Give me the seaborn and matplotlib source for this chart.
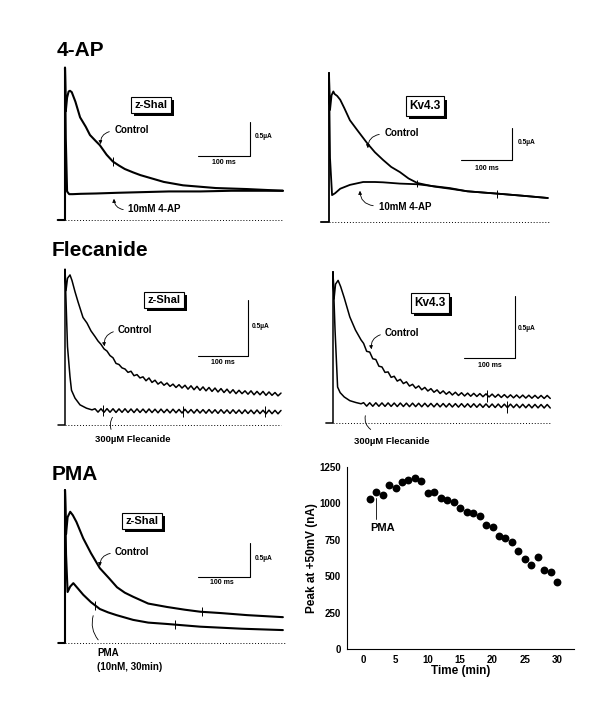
import numpy as np
import matplotlib
matplotlib.use("Agg")
import matplotlib.pyplot as plt
import matplotlib.patheffects as pe
from matplotlib.patches import FancyArrowPatch
from matplotlib.ticker import MultipleLocator
import seaborn as sns

# ---------------- data ----------------
# currents in uA, time in ms (t=0 is the start of the step)

# 4-AP, z-Shal
ap_zshal_ctrl_t = [-14, 0, 0, 1.5, 4, 7, 9.6, 13, 20, 29, 40, 48, 58, 67, 80, 92, 104, 115, 131, 145, 163, 190, 227, 290, 350, 419]
ap_zshal_ctrl_i = [0, 0, 2.24, 1.60, 1.80, 1.89, 1.90, 1.88, 1.74, 1.51, 1.37, 1.25, 1.17, 1.10, 0.96, 0.86, 0.80, 0.75, 0.70, 0.66, 0.62, 0.56, 0.51, 0.47, 0.455, 0.43]
ap_zshal_drug_t = [0, 1.5, 4, 8, 15, 30, 60, 100, 150, 200, 260, 320, 380, 419]
ap_zshal_drug_i = [2.24, 1.2, 0.42, 0.38, 0.38, 0.385, 0.39, 0.40, 0.41, 0.42, 0.42, 0.43, 0.43, 0.43]

# 4-AP, Kv4.3
ap_kv_ctrl_t = [-16, 0, 0, 2, 5, 8.5, 11, 16, 22, 30, 41, 55, 75, 90, 106, 122, 139, 156, 173, 205, 237, 271, 335, 380, 429]
ap_kv_ctrl_i = [0, 0, 2.33, 1.75, 1.98, 2.04, 2.00, 1.97, 1.91, 1.78, 1.59, 1.44, 1.23, 1.09, 0.97, 0.86, 0.78, 0.68, 0.61, 0.555, 0.52, 0.48, 0.44, 0.41, 0.375]
ap_kv_drug_t = [0, 2, 6, 12, 22, 41, 67, 90, 106, 139, 173, 205, 237, 271, 335, 380, 429]
ap_kv_drug_i = [2.33, 1.0, 0.42, 0.45, 0.52, 0.58, 0.625, 0.625, 0.62, 0.60, 0.59, 0.56, 0.53, 0.48, 0.44, 0.41, 0.375]

# Flecainide, z-Shal (head points, then a 6 ms sampled tail from 60 ms)
fl_zshal_ctrl_t = [-14, 0, 0, 2, 5, 10, 14, 20, 26, 36, 44, 52]
fl_zshal_ctrl_i = [0, 0, 1.39, 1.20, 1.31, 1.34, 1.29, 1.19, 1.10, 0.96, 0.91, 0.84]
fl_zshal_ctrl_tail = [0.79, 0.75, 0.72, 0.68, 0.66, 0.62, 0.60, 0.55, 0.54, 0.51,
                      0.50, 0.47, 0.48, 0.44, 0.45, 0.42, 0.43, 0.395, 0.42, 0.38,
                      0.40, 0.365, 0.385, 0.355, 0.375, 0.345, 0.365, 0.335, 0.36, 0.33,
                      0.355, 0.32, 0.35, 0.315, 0.345, 0.31, 0.34, 0.305, 0.335, 0.30,
                      0.33, 0.295, 0.325, 0.29, 0.32, 0.285, 0.315, 0.28, 0.31, 0.28,
                      0.305, 0.275, 0.305, 0.27, 0.30, 0.27, 0.30, 0.265, 0.295, 0.265,
                      0.29, 0.26, 0.285]
fl_zshal_drug_t = [0, 5, 10, 13, 20, 30, 43, 54]
fl_zshal_drug_i = [1.39, 0.70, 0.43, 0.31, 0.24, 0.18, 0.15, 0.135]
fl_zshal_drug_tail = [0.145, 0.115, 0.145, 0.113, 0.146, 0.114, 0.145, 0.112, 0.144, 0.113,
                      0.145, 0.112, 0.143, 0.111, 0.144, 0.112, 0.142, 0.110, 0.143, 0.111,
                      0.141, 0.109, 0.142, 0.110, 0.140, 0.108, 0.141, 0.109, 0.139, 0.107,
                      0.140, 0.108, 0.138, 0.106, 0.139, 0.107, 0.137, 0.105, 0.138, 0.106,
                      0.136, 0.104, 0.137, 0.105, 0.135, 0.103, 0.136, 0.104, 0.134, 0.102,
                      0.135, 0.103, 0.133, 0.101, 0.134, 0.102, 0.132, 0.100, 0.133, 0.101,
                      0.131, 0.100, 0.130]

# Flecainide, Kv4.3
fl_kv_ctrl_t = [-14, 0, 0, 2, 5, 10, 15, 22, 33, 44, 55]
fl_kv_ctrl_i = [0, 0, 1.22, 1.00, 1.12, 1.15, 1.10, 1.01, 0.855, 0.75, 0.67]
fl_kv_ctrl_tail = [0.642, 0.578, 0.572, 0.518, 0.512, 0.458, 0.452, 0.408, 0.412, 0.368,
                   0.377, 0.338, 0.352, 0.318, 0.332, 0.298, 0.312, 0.281, 0.299, 0.268,
                   0.287, 0.258, 0.277, 0.248, 0.267, 0.238, 0.259, 0.232, 0.252, 0.226,
                   0.248, 0.222, 0.244, 0.218, 0.241, 0.216, 0.239, 0.214, 0.237, 0.212,
                   0.235, 0.210, 0.233, 0.208, 0.231, 0.206, 0.229, 0.204, 0.227, 0.203,
                   0.226, 0.202, 0.225, 0.201, 0.224, 0.200, 0.223, 0.199, 0.222, 0.198,
                   0.222, 0.198]
fl_kv_drug_t = [0, 4, 9, 14, 22, 33, 45, 55]
fl_kv_drug_i = [1.22, 0.75, 0.29, 0.245, 0.21, 0.18, 0.165, 0.155]
fl_kv_drug_tail = [0.164, 0.136, 0.163, 0.135, 0.163, 0.135, 0.162, 0.134, 0.162, 0.134,
                   0.161, 0.133, 0.161, 0.133, 0.160, 0.132, 0.160, 0.132, 0.159, 0.131,
                   0.159, 0.131, 0.158, 0.130, 0.158, 0.130, 0.157, 0.129, 0.157, 0.129,
                   0.156, 0.128, 0.156, 0.128, 0.155, 0.127, 0.155, 0.127, 0.154, 0.126,
                   0.154, 0.126, 0.153, 0.125, 0.153, 0.125, 0.152, 0.124, 0.152, 0.124,
                   0.151, 0.123, 0.151, 0.123, 0.150, 0.122, 0.150, 0.122, 0.149, 0.121,
                   0.149, 0.121]

# PMA, z-Shal
pma_ctrl_t = [-13, 0, 0, 2, 5, 10, 15, 22, 35, 50, 67, 85, 100, 115, 131, 160, 196, 230, 260, 300, 350, 419]
pma_ctrl_i = [0, 0, 2.25, 1.60, 1.85, 1.93, 1.88, 1.78, 1.54, 1.32, 1.10, 0.95, 0.82, 0.74, 0.68, 0.58, 0.53, 0.49, 0.46, 0.44, 0.41, 0.38]
pma_drug_t = [0, 2, 5, 10, 16, 25, 35, 50, 67, 83, 99, 131, 160, 196, 260, 340, 419]
pma_drug_i = [2.25, 1.3, 0.75, 0.83, 0.88, 0.80, 0.71, 0.60, 0.50, 0.45, 0.41, 0.34, 0.30, 0.28, 0.24, 0.21, 0.19]

# small stimulus artefacts on the traces: (panel, time ms, current uA)
artefacts = [(1, 92, 0.86), (2, 173, 0.60), (2, 329, 0.44), (3, 76, 0.13), (3, 236, 0.12),
             (3, 400, 0.12), (4, 302, 0.22), (4, 341, 0.13), (5, 58, 0.55), (5, 211, 0.27),
             (5, 263, 0.46)]

# PMA time course
time_min = list(range(1, 31))
peak_na = [1030, 1075, 1055, 1125, 1105, 1145, 1160, 1175, 1155, 1070,
           1075, 1035, 1020, 1010, 970, 940, 935, 915, 855, 840,
           775, 765, 735, 670, 620, 580, 635, 545, 530, 460]

TAIL_START, TAIL_STEP = 60, 6

# ---------------- figure ----------------
sns.set_style("white")
plt.rcParams['font.family'] = ['Liberation Sans', 'DejaVu Sans']
plt.rcParams['font.weight'] = 'bold'
plt.rcParams['text.color'] = 'black'
plt.rcParams['axes.labelcolor'] = 'black'
plt.rcParams['xtick.color'] = 'black'
plt.rcParams['ytick.color'] = 'black'
plt.rcParams['axes.edgecolor'] = 'black'

W, H = 600, 714
fig = plt.figure(figsize=(W / 100, H / 100), dpi=100)


def fx(x):
    return x / W


def fy(y):
    return 1 - y / H


def with_tail(t, i, tail):
    tt = list(t) + list(TAIL_START + TAIL_STEP * np.arange(len(tail)))
    return tt, list(i) + list(tail)


def trace_panel(box, origin, px_ms, px_ua):
    x0, y0, x1, y1 = box
    ox, oy = origin
    ax = fig.add_axes([fx(x0), fy(y1), (x1 - x0) / W, (y1 - y0) / H])
    ax.set_xlim((x0 - ox) / px_ms, (x1 - ox) / px_ms)
    ax.set_ylim((oy - y1) / px_ua, (oy - y0) / px_ua)
    ax.axis('off')
    return ax


def draw(ax, t, i, lw):
    sns.lineplot(x=t, y=i, ax=ax, color='k', lw=lw, sort=False, estimator=None)


def baseline(ax, t_end):
    ax.hlines(0, 0, t_end, colors='k', linestyles=(0, (1, 2)), lw=0.7)


def scalebar(ax, corner_t, corner_i):
    ax.plot([corner_t - 100, corner_t, corner_t], [corner_i, corner_i, corner_i + 0.5],
            color='k', lw=0.8)


def ftext(x, y, s, size, ha='left', va='center'):
    fig.text(fx(x), fy(y), s, ha=ha, va=va, fontsize=size, fontweight='bold', color='k')


def tag(x, y, s, size):
    t = fig.text(fx(x), fy(y), s, ha='center', va='center', fontsize=size, fontweight='bold',
                 color='k', bbox=dict(boxstyle='square,pad=0.3', fc='white', ec='k', lw=0.8))
    t.get_bbox_patch().set_path_effects(
        [pe.SimplePatchShadow(offset=(2.2, -2.2), shadow_rgbFace='k', alpha=1.0), pe.Normal()])


def curl(p0, p1, rad, head=True):
    a = FancyArrowPatch((fx(p0[0]), fy(p0[1])), (fx(p1[0]), fy(p1[1])),
                        transform=fig.transFigure, connectionstyle=f"arc3,rad={rad}",
                        arrowstyle='-|>' if head else '-', mutation_scale=5, lw=0.6, color='k')
    fig.add_artist(a)


axes = {}

# ---- panel 1: 4-AP, z-Shal ----
ax1 = trace_panel((50, 60, 290, 235), (65, 220), 0.52, 68)
axes[1] = (ax1, 0.07)
draw(ax1, ap_zshal_ctrl_t, ap_zshal_ctrl_i, 1.5)
draw(ax1, ap_zshal_drug_t, ap_zshal_drug_i, 1.5)
baseline(ax1, 419)
scalebar(ax1, (250 - 65) / 0.52, (220 - 156) / 68)
ftext(57, 51, '4-AP', 15)
tag(151, 105, 'z-Shal', 8)
ftext(115, 130, 'Control', 7)
ftext(128, 209, '10mM 4-AP', 7)
ftext(255, 137, '0.5µA', 4.8)
ftext(224, 163, '100 ms', 5, ha='center')
curl((112, 131), (101, 147), 0.5)
curl((126, 210), (114, 196), -0.5)

# ---- panel 2: 4-AP, Kv4.3 ----
ax2 = trace_panel((310, 60, 560, 235), (329, 222), 0.51, 64)
axes[2] = (ax2, 0.06)
draw(ax2, ap_kv_ctrl_t, ap_kv_ctrl_i, 1.3)
draw(ax2, ap_kv_drug_t, ap_kv_drug_i, 1.3)
baseline(ax2, 432)
scalebar(ax2, (512 - 329) / 0.51, (222 - 160) / 64)
tag(425, 106, 'Kv4.3', 8.5)
ftext(385, 133, 'Control', 7)
ftext(379, 207, '10mM 4-AP', 7)
ftext(518, 143, '0.5µA', 4.8)
ftext(487, 168, '100 ms', 5, ha='center')
curl((382, 134), (368, 151), 0.5)
curl((376, 206), (360, 188), -0.5)

# ---- panel 3: Flecainide, z-Shal ----
ax3 = trace_panel((50, 262, 290, 447), (65, 425), 0.50, 112)
axes[3] = (ax3, 0.05)
draw(ax3, *with_tail(fl_zshal_ctrl_t, fl_zshal_ctrl_i, fl_zshal_ctrl_tail), 1.1)
draw(ax3, *with_tail(fl_zshal_drug_t, fl_zshal_drug_i, fl_zshal_drug_tail), 1.1)
baseline(ax3, 432)
scalebar(ax3, (248 - 65) / 0.50, (425 - 356) / 112)
ftext(52, 251, 'Flecanide', 15)
tag(164, 300, 'z-Shal', 8)
ftext(118, 330, 'Control', 7)
ftext(95, 439, '300µM Flecanide', 6.8)
ftext(252, 327, '0.5µA', 4.8)
ftext(223, 363, '100 ms', 5, ha='center')
curl((116, 331), (105, 349), 0.5)
curl((114, 415), (112, 432), 0.3, head=False)

# ---- panel 4: Flecainide, Kv4.3 ----
ax4 = trace_panel((310, 262, 560, 447), (333, 423), 0.51, 124)
axes[4] = (ax4, 0.05)
draw(ax4, *with_tail(fl_kv_ctrl_t, fl_kv_ctrl_i, fl_kv_ctrl_tail), 1.1)
draw(ax4, *with_tail(fl_kv_drug_t, fl_kv_drug_i, fl_kv_drug_tail), 1.1)
baseline(ax4, 426)
scalebar(ax4, (515 - 333) / 0.51, (423 - 358) / 124)
tag(430, 303, 'Kv4.3', 8.5)
ftext(385, 333, 'Control', 7)
ftext(354, 442, '300µM Flecanide', 6.8)
ftext(518, 329, '0.5µA', 4.8)
ftext(490, 366, '100 ms', 5, ha='center')
curl((383, 334), (372, 352), 0.5)
curl((366, 413), (373, 431), 0.4, head=False)

# ---- panel 5: PMA, z-Shal ----
ax5 = trace_panel((50, 482, 290, 680), (65, 643), 0.52, 68)
axes[5] = (ax5, 0.07)
draw(ax5, pma_ctrl_t, pma_ctrl_i, 1.5)
draw(ax5, pma_drug_t, pma_drug_i, 1.5)
baseline(ax5, 423)
scalebar(ax5, (250 - 65) / 0.52, (643 - 577) / 68)
ftext(52, 474, 'PMA', 15)
tag(142, 521, 'z-Shal', 8)
ftext(115, 552, 'Control', 7)
ftext(97, 653, 'PMA', 7)
ftext(97, 667, '(10nM, 30min)', 7)
ftext(255, 558, '0.5µA', 4.8)
ftext(222, 583, '100 ms', 5, ha='center')
curl((113, 553), (100, 569), 0.5)
curl((94, 613), (100, 642), 0.3, head=False)

for panel, t, i in artefacts:
    ax, h = axes[panel]
    ax.vlines(t, i - h, i + h, colors='k', lw=0.7)

# ---- panel 6: PMA time course ----
ax6 = fig.add_axes([fx(347), fy(649), (574 - 347) / W, (649 - 467) / H])
sns.scatterplot(x=time_min, y=peak_na, ax=ax6, color='k', s=32, linewidth=0, legend=False)
ax6.set_xlim(-2.5, 32.6)
ax6.set_ylim(0, 1250)
ax6.set_xticks(range(0, 31, 5))
ax6.set_yticks(range(0, 1251, 250))
ax6.xaxis.set_minor_locator(MultipleLocator(2.5))
ax6.yaxis.set_minor_locator(MultipleLocator(125))
sns.despine(ax=ax6)
for s in ['left', 'bottom']:
    ax6.spines[s].set_linewidth(0.8)
ax6.tick_params(which='major', direction='out', length=3, width=0.8, labelsize=7, pad=1.5)
ax6.tick_params(which='minor', direction='out', length=1.8, width=0.6)
for lab in ax6.get_xticklabels() + ax6.get_yticklabels():
    lab.set_fontweight('bold')
ax6.set_xlabel('Time (min)', fontsize=8.5, fontweight='bold', labelpad=-0.5)
ax6.set_ylabel('Peak at +50mV (nA)', fontsize=8.5, fontweight='bold', labelpad=1)
ax6.plot([2, 2], [1035, 890], color='k', lw=0.6)
ax6.text(1.1, 830, 'PMA', fontsize=8, fontweight='bold', ha='left', va='center')

fig.savefig('out.png', dpi=100)
